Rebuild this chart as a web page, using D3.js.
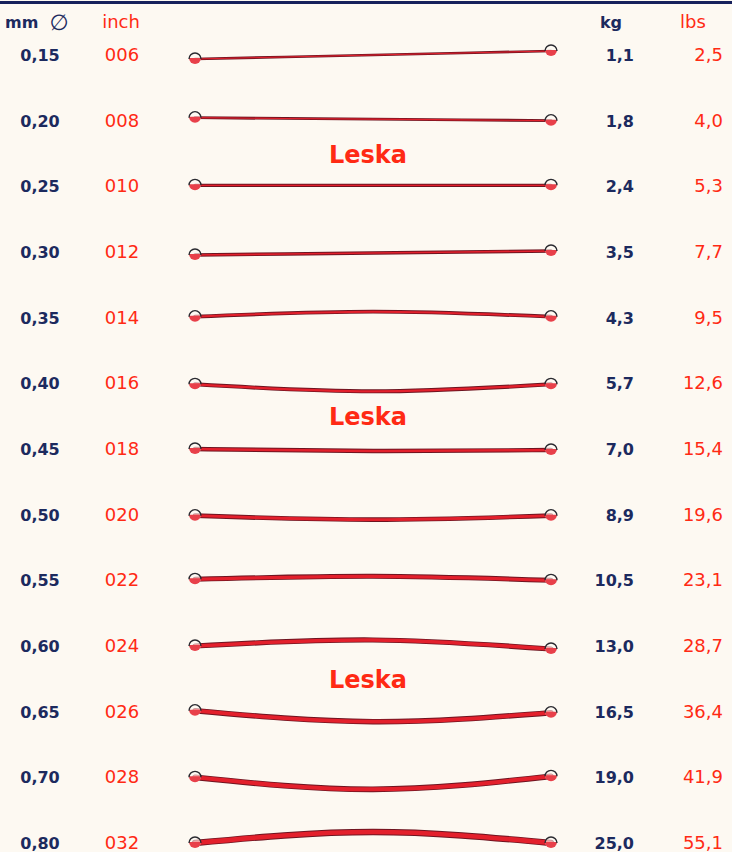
<html>
<head>
    <script src="https://d3js.org/d3.v7.min.js"></script>
    <style>
        body { margin: 0; background: #fdf9f2; }
        svg { display: block; }
        .blue { fill: #1c2a5e; }
        .red { fill: #ff2a14; }
        .num { font-family: "DejaVu Sans", sans-serif; font-size: 16px; font-weight: bold; }
        .head { font-family: "DejaVu Sans", sans-serif; font-size: 18px; }
        .leska { font-family: "DejaVu Sans", sans-serif; font-size: 24px; font-weight: bold; fill: #ff2a14; }
    </style>
</head>
<body>
<svg width="732" height="852"></svg>
<script>
    // table values
    const mm = ["0,15", "0,20", "0,25", "0,30", "0,35", "0,40", "0,45", "0,50", "0,55", "0,60", "0,65", "0,70", "0,80"];
    const inch = ["006", "008", "010", "012", "014", "016", "018", "020", "022", "024", "026", "028", "032"];
    const kg = ["1,1", "1,8", "2,4", "3,5", "4,3", "5,7", "7,0", "8,9", "10,5", "13,0", "16,5", "19,0", "25,0"];
    const lbs = ["2,5", "4,0", "5,3", "7,7", "9,5", "12,6", "15,4", "19,6", "23,1", "28,7", "36,4", "41,9", "55,1"];
    // how each drawn line bends: offset at left end, middle and right end (px)
    const bendLeft = [4, -3, -1, 3, -1, 1, 0, 1, -1, 0, -1, 0, 0];
    const bendMid = [0, -1.5, -1, 1, -6, 8, 2, 5, -4, -6, 10, 12, -11];
    const bendRight = [-4, 0, -1, -1, -1, 1, 1, 1, 0, 3, 1, -1, 0];
    const leskaAfter = [1, 5, 9]; // label sits between row i and i+1

    const svg = d3.select("svg");
    const W = 732, H = 852;

    const y = d3.scalePoint().domain(mm).range([55, 843]);
    const x = d3.scaleLinear().domain([0, 1]).range([195, 551]);
    const thick = d3.scaleLinear()
        .domain([0.15, 0.8])
        .range([1.4, 5.2]);

    // top border
    svg.append("rect").attr("x", 0).attr("y", 1).attr("width", W).attr("height", 3).attr("fill", "#17215c");

    // headers
    svg.append("text").attr("class", "head blue").attr("x", 5).attr("y", 28).style("font-weight", "bold").style("font-size", "16px").text("mm");
    svg.append("text").attr("class", "head blue").attr("x", 59).attr("y", 30).attr("text-anchor", "middle").style("font-size", "22px").text("∅");
    svg.append("text").attr("class", "head red").attr("x", 121).attr("y", 28).attr("text-anchor", "middle").text("inch");
    svg.append("text").attr("class", "head blue").attr("x", 611).attr("y", 28).attr("text-anchor", "middle").style("font-weight", "bold").style("font-size", "16px").text("kg");
    svg.append("text").attr("class", "head red").attr("x", 693).attr("y", 28).attr("text-anchor", "middle").text("lbs");

    const rows = mm.map((m, i) => ({
        mm: m, inch: inch[i], kg: kg[i], lbs: lbs[i],
        d: +m.replace(",", "."),
        pts: [[0, bendLeft[i]], [0.5, bendMid[i]], [1, bendRight[i]]]
    }));

    const g = svg.append("g").selectAll("g").data(rows).join("g")
        .attr("transform", d => `translate(0,${y(d.mm)})`);

    g.append("text").attr("class", "num blue").attr("x", 40).attr("y", 6).attr("text-anchor", "middle").text(d => d.mm);
    g.append("text").attr("class", "num red").attr("x", 122).attr("y", 6).attr("text-anchor", "middle").style("font-weight", "normal").style("font-size", "18px").text(d => d.inch);
    g.append("text").attr("class", "num blue").attr("x", 634).attr("y", 6).attr("text-anchor", "end").text(d => d.kg);
    g.append("text").attr("class", "num red").attr("x", 723).attr("y", 6).attr("text-anchor", "end").style("font-weight", "normal").style("font-size", "18px").text(d => d.lbs);

    const line = d3.line()
        .x(p => x(p[0]))
        .y(p => p[1])
        .curve(d3.curveNatural);

    // dark edge then red core
    g.append("path").attr("d", d => line(d.pts)).attr("fill", "none")
        .attr("stroke", "#6e1420").attr("stroke-width", d => thick(d.d) + 1.2).attr("stroke-linecap", "round");
    g.append("path").attr("d", d => line(d.pts)).attr("fill", "none")
        .attr("stroke", "#e3202c").attr("stroke-width", d => Math.max(1, thick(d.d) - 0.6)).attr("stroke-linecap", "round");

    // end rings: dark top arc, red lower half
    [0, 1].forEach(k => {
        const ends = g.append("g").attr("transform", d => `translate(${x(k)},${d.pts[k * 2][1] - 1})`);
        ends.append("circle").attr("r", 6).attr("fill", "#fffaf4").attr("fill-opacity", 0.6);
        ends.append("path").attr("d", "M-6,0 A6,6 0 0 0 6,0 Z").attr("fill", "#e8404a");
        ends.append("path").attr("d", "M-6,1 A6,6 0 0 1 6,1").attr("fill", "none")
            .attr("stroke", "#2a2a30").attr("stroke-width", 1.4);
    });

    // Leska labels
    svg.selectAll(".leska").data(leskaAfter).join("text")
        .attr("class", "leska")
        .attr("x", 368)
        .attr("y", i => (y(mm[i]) + y(mm[i + 1])) / 2 + 9)
        .attr("text-anchor", "middle")
        .text("Leska");
</script>
</body>
</html>
